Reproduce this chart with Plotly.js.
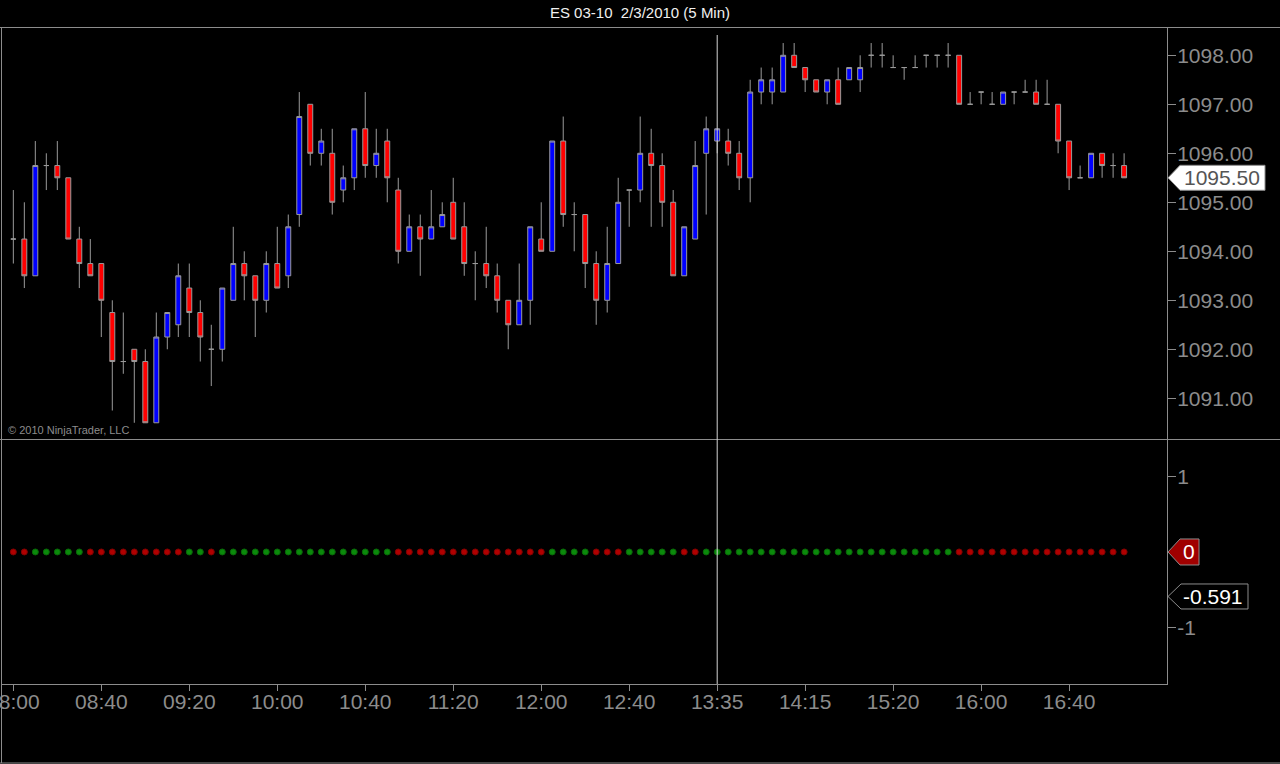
<!DOCTYPE html>
<html>
<head>
<meta charset="utf-8">
<script src="https://cdn.plot.ly/plotly-3.0.1.min.js"></script>
<style>
  html, body { margin: 0; padding: 0; background: #000; }
  #chart { width: 1280px; height: 764px; }
</style>
</head>
<body>
<div id="chart"></div>
<script>
// ES 03-10, 2/3/2010, 5 min bars (bar index 0 = 08:00, session gaps skipped)
var OPEN = [1094.25, 1094.25, 1093.5, 1095.75, 1095.75, 1095.5, 1094.25, 1093.75, 1093.75, 1092.75,
  1091.75, 1092, 1091.75, 1090.5, 1092.25, 1092.5, 1093.25, 1092.75, 1092, 1092,
  1093, 1093.75, 1093.5, 1093, 1093.75, 1093.5, 1094.75, 1097, 1096, 1096,
  1095.25, 1095.5, 1096.5, 1095.75, 1096.25, 1095.25, 1094, 1094.5, 1094.25, 1094.5,
  1095, 1094.5, 1093.75, 1093.75, 1093.5, 1093, 1092.5, 1093, 1094.25, 1094,
  1096.25, 1094.75, 1094.75, 1093.75, 1093, 1093.75, 1095.25, 1095.25, 1096, 1095.75,
  1095, 1093.5, 1094.25, 1096, 1096.25, 1096.25, 1096, 1095.5, 1097.25, 1097.25,
  1097.25, 1098, 1097.75, 1097.5, 1097.25, 1097.5, 1097.5, 1097.5, 1098, 1098,
  1097.75, 1097.75, 1097.75, 1098, 1098, 1098, 1098, 1097, 1097.25, 1097,
  1097, 1097.25, 1097.25, 1097.25, 1097, 1097, 1096.25, 1095.5, 1095.5, 1096,
  1095.75, 1095.75];
var HIGH = [1095.25, 1095, 1096.25, 1096, 1096.25, 1095.5, 1094.5, 1094.25, 1093.75, 1093,
  1092.75, 1092, 1092, 1092.75, 1092.75, 1093.75, 1093.75, 1093, 1092.5, 1093.25,
  1094.5, 1094, 1093.5, 1094, 1094.5, 1094.75, 1097.25, 1097, 1096.5, 1096.5,
  1095.75, 1096.5, 1097.25, 1096.5, 1096.5, 1095.5, 1094.75, 1094.75, 1095.25, 1095,
  1095.5, 1095, 1094, 1094.5, 1093.75, 1093, 1093.75, 1094.5, 1095, 1096.25,
  1096.75, 1095, 1094.75, 1094, 1094.5, 1095.5, 1095.25, 1096.75, 1096.5, 1096,
  1095.25, 1094.5, 1096.25, 1096.75, 1096.5, 1096.5, 1096.25, 1097.5, 1097.75, 1097.75,
  1098.25, 1098.25, 1097.75, 1097.5, 1097.5, 1097.75, 1097.75, 1098, 1098.25, 1098.25,
  1098, 1097.75, 1098, 1098, 1098, 1098.25, 1098, 1097.25, 1097.25, 1097.25,
  1097.25, 1097.25, 1097.5, 1097.5, 1097.5, 1097, 1096.25, 1095.75, 1096, 1096,
  1096, 1096];
var LOW = [1093.75, 1093.25, 1093.5, 1095.25, 1095.25, 1094.25, 1093.25, 1093.5, 1092.25, 1090.75,
  1091.5, 1090.5, 1090.5, 1090.5, 1092, 1092.25, 1092.25, 1091.75, 1091.25, 1091.75,
  1093, 1093, 1092.25, 1092.75, 1093.25, 1093.25, 1094.5, 1095.75, 1095.75, 1094.75,
  1095, 1095.25, 1095.5, 1095.5, 1095, 1093.75, 1094, 1093.5, 1094.25, 1094.5,
  1094.25, 1093.5, 1093, 1093.25, 1092.75, 1092, 1092.5, 1092.5, 1094, 1094,
  1094.5, 1094, 1093.25, 1092.5, 1092.75, 1093.75, 1094.5, 1095, 1094.5, 1094.5,
  1093.5, 1093.5, 1094.25, 1094.75, 1096, 1095.75, 1095.25, 1095, 1097, 1097,
  1097.25, 1097.75, 1097.25, 1097.25, 1097, 1097, 1097.5, 1097.25, 1097.75, 1097.75,
  1097.75, 1097.5, 1097.75, 1097.75, 1097.75, 1097.75, 1097, 1097, 1097, 1097,
  1097, 1097, 1097.25, 1097, 1097, 1096, 1095.25, 1095.5, 1095.5, 1095.5,
  1095.5, 1095.5];
var CLOSE = [1094.25, 1093.5, 1095.75, 1095.75, 1095.5, 1094.25, 1093.75, 1093.5, 1093, 1091.75,
  1091.75, 1091.75, 1090.5, 1092.25, 1092.75, 1093.5, 1092.75, 1092.25, 1092, 1093.25,
  1093.75, 1093.5, 1093, 1093.75, 1093.25, 1094.5, 1096.75, 1096, 1096.25, 1095,
  1095.5, 1096.5, 1095.75, 1096, 1095.5, 1094, 1094.5, 1094.25, 1094.5, 1094.75,
  1094.25, 1093.75, 1093.75, 1093.5, 1093, 1092.5, 1093, 1094.5, 1094, 1096.25,
  1094.75, 1094.75, 1093.75, 1093, 1093.75, 1095, 1095.25, 1096, 1095.75, 1095,
  1093.5, 1094.5, 1095.75, 1096.5, 1096.5, 1096, 1095.5, 1097.25, 1097.5, 1097.5,
  1098, 1097.75, 1097.5, 1097.25, 1097.5, 1097, 1097.75, 1097.75, 1098, 1098,
  1097.75, 1097.75, 1097.75, 1098, 1098, 1098, 1097, 1097, 1097.25, 1097,
  1097.25, 1097.25, 1097.25, 1097, 1097, 1096.25, 1095.5, 1095.5, 1096, 1095.75,
  1095.75, 1095.5];
// lower panel: trend dots at 0, 1 = green, -1 = red
var TREND = [-1, -1, 1, 1, 1, 1, 1, -1, -1, -1,
  -1, -1, -1, -1, -1, -1, 1, 1, -1, 1,
  1, 1, 1, 1, 1, 1, 1, 1, 1, 1,
  1, 1, 1, 1, 1, -1, -1, -1, -1, -1,
  -1, -1, -1, -1, -1, -1, -1, -1, -1, 1,
  1, 1, 1, -1, -1, -1, 1, 1, 1, 1,
  1, -1, -1, 1, 1, 1, 1, 1, 1, 1,
  1, 1, 1, 1, 1, 1, 1, 1, 1, 1,
  1, 1, 1, 1, 1, 1, -1, -1, -1, -1,
  -1, -1, -1, -1, -1, -1, -1, -1, -1, -1,
  -1, -1];
var TICK_INDEX = [0, 8, 16, 24, 32, 40, 48, 56, 64, 72, 80, 88, 96];
var TICK_LABELS = ["08:00", "08:40", "09:20", "10:00", "10:40", "11:20", "12:00", "12:40",
  "13:35", "14:15", "15:20", "16:00", "16:40"];
var PRICE_TICKS = [1091, 1092, 1093, 1094, 1095, 1096, 1097, 1098];
var OSC_TICKS = [-1, 1];
var CROSSHAIR_INDEX = 64;
var CURSOR_VALUE = -0.591;

(function () {
  "use strict";
  var FONT = "Arial, 'Liberation Sans', sans-serif";
  var GREY = "#8c8c8c";
  var W = 1280, H = 764, L = 2, R = 113, T = 28, B = 80;
  var pw = W - L - R, ph = H - T - B;
  function px(x) { return (x - L) / pw; }          // page px -> paper x
  function py(y) { return (H - B - y) / ph; }      // page px -> paper y
  var split = py(439);

  var idx = CLOSE.map(function (c, i) { return i; });
  var last = CLOSE[CLOSE.length - 1];

  var candles = {
    type: "candlestick", x: idx, open: OPEN, high: HIGH, low: LOW, close: CLOSE,
    xaxis: "x", yaxis: "y", hoverinfo: "none", whiskerwidth: 0,
    increasing: { line: { color: "#9a9a9a", width: 1 }, fillcolor: "#0000ff" },
    decreasing: { line: { color: "#9a9a9a", width: 1 }, fillcolor: "#ff0000" }
  };
  var dots = {
    type: "scatter", mode: "markers", x: idx, y: TREND.map(function () { return 0; }),
    xaxis: "x", yaxis: "y2", hoverinfo: "none",
    marker: {
      size: 6,
      color: TREND.map(function (t) { return t > 0 ? "#0b8a0b" : "#b00000"; }),
      line: { width: 1, color: TREND.map(function (t) { return t > 0 ? "#086808" : "#800000"; }) }
    }
  };

  function hline(y, x0, x1) {
    return { type: "line", xref: "paper", yref: "paper", x0: px(x0), x1: px(x1), y0: py(y), y1: py(y),
             line: { color: GREY, width: 1 } };
  }
  function marker(yref, yval, right, notch, half, fill) {
    return { type: "path", xref: "paper", xsizemode: "pixel", xanchor: 1, yref: yref, ysizemode: "pixel",
             yanchor: yval, fillcolor: fill, line: { color: GREY, width: 1 },
             path: "M1,0L" + notch + "," + half + "L" + right + "," + half + "L" + right + ",-" + half +
                   "L" + notch + ",-" + half + "Z" };
  }

  var axisCommon = {
    showgrid: false, zeroline: false, showline: true, linecolor: GREY, linewidth: 1,
    ticks: "outside", tickcolor: GREY, tickfont: { family: FONT, size: 21, color: GREY }, fixedrange: true
  };

  var layout = {
    width: W, height: H,
    margin: { l: L, r: R, t: T, b: B },
    paper_bgcolor: "#000", plot_bgcolor: "#000",
    showlegend: false, hovermode: false, boxgap: 0.36,
    font: { family: FONT, color: GREY },
    title: { text: "ES 03-10&nbsp;&nbsp;2/3/2010 (5 Min)", xref: "container", x: 0.5, xanchor: "center",
             yref: "container", y: 1 - 13 / H, yanchor: "middle", font: { family: FONT, size: 15, color: "#f0f0f0" } },
    xaxis: Object.assign({}, axisCommon, {
      range: [-1.03, 104.9], anchor: "y2", tickmode: "array", tickvals: TICK_INDEX, ticktext: TICK_LABELS,
      ticklen: 6, ticklabelstandoff: -7, ticklabeloverflow: "allow", rangeslider: { visible: false }
    }),
    yaxis: Object.assign({}, axisCommon, {
      domain: [split, 1], side: "right", anchor: "x", range: [1090.169, 1098.557],
      tickmode: "array", tickvals: PRICE_TICKS, tickformat: ".2f", ticklen: 8, ticklabelstandoff: -3
    }),
    yaxis2: Object.assign({}, axisCommon, {
      domain: [0, split], side: "right", anchor: "x", range: [-1.753, 1.5],
      tickmode: "array", tickvals: OSC_TICKS, ticktext: OSC_TICKS.map(String), ticklen: 8, ticklabelstandoff: -3
    }),
    shapes: [
      hline(27.5, 0, W), hline(439.5, 0, W), hline(763, 0, W),
      { type: "line", xref: "paper", yref: "paper", x0: px(1.5), x1: px(1.5), y0: py(27), y1: py(763),
        line: { color: GREY, width: 1 } },
      { type: "line", xref: "x", yref: "paper", x0: CROSSHAIR_INDEX, x1: CROSSHAIR_INDEX, y0: 0, y1: py(35),
        line: { color: "#d4d4d4", width: 1 } },
      marker("y", last, 98, 13, 12.5, "#ffffff"),
      marker("y2", 0, 32, 13, 13, "#a00000"),
      marker("y2", CURSOR_VALUE, 81, 14, 12.5, "#000000")
    ],
    annotations: [
      { xref: "paper", yref: "paper", x: px(6), y: py(430), xanchor: "left", yanchor: "middle", showarrow: false,
        text: "© 2010 NinjaTrader, LLC", font: { family: FONT, size: 11, color: GREY } },
      { xref: "paper", yref: "y", x: 1, y: last, xanchor: "center", yanchor: "middle", xshift: 55, showarrow: false,
        text: last.toFixed(2), font: { family: FONT, size: 21, color: "#555555" } },
      { xref: "paper", yref: "y2", x: 1, y: 0, xanchor: "center", yanchor: "middle", xshift: 22, showarrow: false,
        text: "0", font: { family: FONT, size: 21, color: "#ffffff" } },
      { xref: "paper", yref: "y2", x: 1, y: CURSOR_VALUE, xanchor: "center", yanchor: "middle", xshift: 46,
        showarrow: false, text: String(CURSOR_VALUE), font: { family: FONT, size: 21, color: "#ffffff" } }
    ]
  };

  Plotly.newPlot("chart", [candles, dots], layout, { staticPlot: true, displayModeBar: false });
})();
</script>
</body>
</html>
